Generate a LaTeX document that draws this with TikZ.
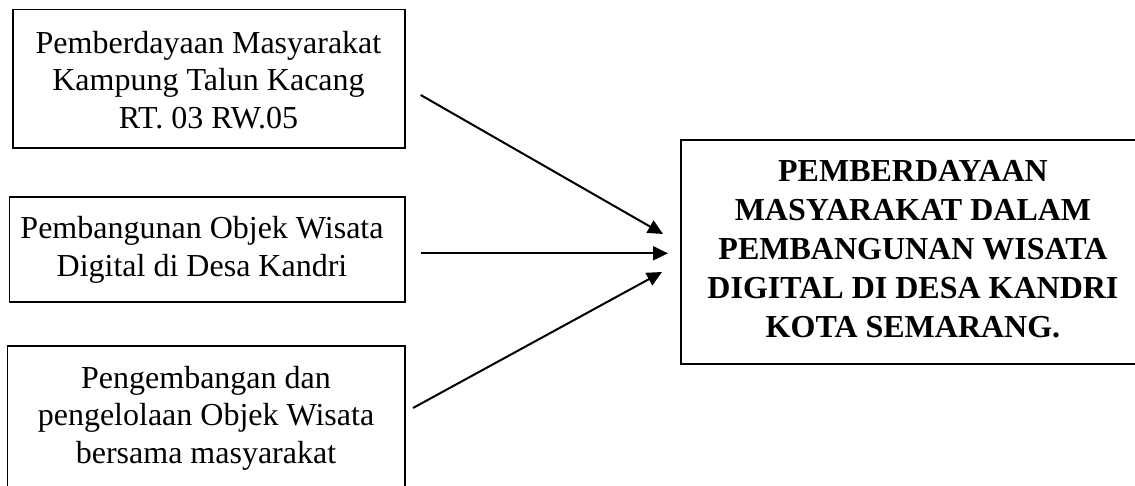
\documentclass[tikz,border=0pt]{standalone}
\usepackage{fontspec}
\setmainfont{Liberation Serif}
\usetikzlibrary{arrows.meta}
\begin{document}
\begin{tikzpicture}[x=1pt,y=-1pt,
  box/.style={draw, line width=1.6pt, inner sep=0pt, outer sep=0pt},
  txt/.style={align=center, font=\fontsize{32}{37.5}\selectfont, inner sep=0pt},
  btxt/.style={align=center, font=\fontsize{32}{39}\selectfont\bfseries, inner sep=0pt},
  arr/.style={line width=2pt, -{Triangle[length=15pt,width=14pt]}}]
\useasboundingbox (0,0) rectangle (1135,485);
\begin{scope}
\clip (0,0) rectangle (1135,485);
\node[box, minimum width=392.3pt, minimum height=138.4pt] (b1) at (208.9,78.5) {};
\node[box, minimum width=395.7pt, minimum height=105pt] (b2) at (207.2,249.2) {};
\node[box, minimum width=397.7pt, minimum height=146.3pt] (b3) at (206.2,418.9) {};
\node[box, minimum width=464.3pt, minimum height=224pt] (b4) at (912.9,252) {};
\end{scope}
\node[txt] (t1) at (208.5,80) {Pemberdayaan Masyarakat\\Kampung Talun Kacang\\RT. 03 RW.05};
\node[txt] (t2) at (202,250) {Pembangunan Objek Wisata\\Digital di Desa Kandri};
\node[txt] (t3) at (206,418) {Pengembangan dan\\pengelolaan Objek Wisata\\bersama masyarakat};
\node[btxt] (t4) at (913,249) {PEMBERDAYAAN\\MASYARAKAT DALAM\\PEMBANGUNAN WISATA\\DIGITAL DI DESA KANDRI\\KOTA SEMARANG.};
\coordinate (a1s) at (420.7,95);
\coordinate (a1e) at (663,234);
\coordinate (a2s) at (420.7,253.3);
\coordinate (a2e) at (668,253.3);
\coordinate (a3s) at (413,408);
\coordinate (a3e) at (662,272);
\draw[arr] (a1s) -- (a1e);
\draw[arr] (a2s) -- (a2e);
\draw[arr] (a3s) -- (a3e);
\end{tikzpicture}
\end{document}
